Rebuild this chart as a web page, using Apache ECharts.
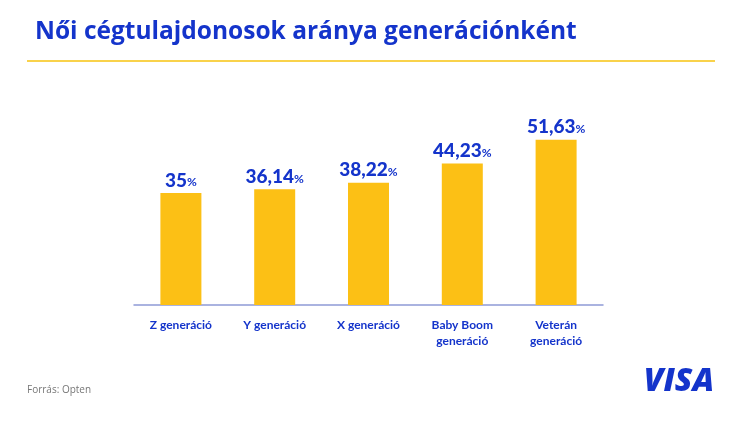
<!DOCTYPE html>
<html>
<head>
<meta charset="utf-8">
<script src="https://cdn.jsdelivr.net/npm/echarts@6/dist/echarts.min.js"></script>
<style>
  html, body { margin: 0; padding: 0; background: #fff; }
  #chart { width: 750px; height: 423px; }
</style>
</head>
<body>
<div id="chart"></div>
<script>
    // adatok
    var categories = ["Z generáció", "Y generáció", "X generáció", "Baby Boom\ngeneráció", "Veterán\ngeneráció"];
    var values = [35, 36.14, 38.22, 44.23, 51.63];
    var valueLabels = ["35", "36,14", "38,22", "44,23", "51,63"];

    var blue = "#1434CB";
    var yellow = "#FCC015";

    var chart = echarts.init(document.getElementById("chart"));
    var option = {
        animation: false,
        grid: {left: 134, right: 147, top: 113, bottom: 118},
        graphic: [
            {
                type: "text", left: 35, top: 20,
                style: {text: "Női cégtulajdonosok aránya generációnként", fill: blue,
                    font: "bold 24.5px 'Open Sans'"}
            },
            {
                type: "rect", shape: {x: 27, y: 60, width: 688, height: 2},
                style: {fill: "#F9D24B"}
            },
            {
                type: "text", left: 27, top: 385,
                style: {text: "Forrás: Opten", fill: "#777", font: "10px 'Open Sans'"}
            },
            {
                type: "text", right: 36, top: 366,
                style: {text: "VISA", fill: blue, font: "italic 800 32px 'Open Sans'"}
            }
        ],
        xAxis: {
            type: "category",
            data: categories,
            axisTick: {show: false},
            axisLine: {lineStyle: {color: "#8E9BD6", width: 1.5}},
            axisLabel: {color: blue, fontFamily: "Lato", fontWeight: "bold", fontSize: 12,
                margin: 12, lineHeight: 16, interval: 0}
        },
        yAxis: {
            type: "value", min: 0, max: 60,
            show: false,
            splitLine: {show: false}
        },
        series: [{
            type: "bar",
            data: values,
            barWidth: 41,
            itemStyle: {color: yellow},
            label: {
                show: true,
                position: "top",
                distance: 3,
                formatter: function (p) {
                    return "{n|" + valueLabels[p.dataIndex] + "}{p|%}";
                },
                rich: {
                    n: {color: blue, fontFamily: "Lato", fontWeight: 900, fontSize: 19},
                    p: {color: blue, fontFamily: "Lato", fontWeight: "bold", fontSize: 12, padding: [4, 0, 0, 0]}
                }
            }
        }]
    };
    chart.setOption(option);
</script>
</body>
</html>
